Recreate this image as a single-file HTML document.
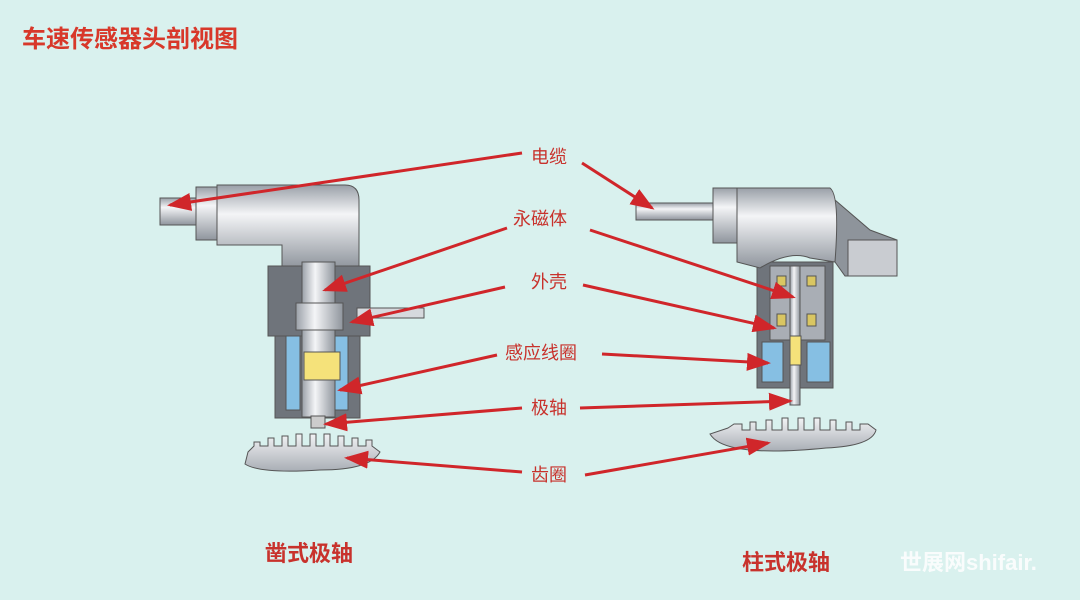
<!DOCTYPE html>
<html><head><meta charset="utf-8"><style>
html,body{margin:0;padding:0;background:#d9f1ee;}
svg{display:block}
text{font-family:"Liberation Sans","Noto Sans CJK SC",sans-serif;}
</style></head><body>
<svg width="1080" height="600" viewBox="0 0 1080 600" xmlns="http://www.w3.org/2000/svg">
<defs>
<linearGradient id="hg" x1="0" y1="0" x2="0" y2="1">
<stop offset="0" stop-color="#9aa0a8"/><stop offset="0.35" stop-color="#f4f5f7"/><stop offset="1" stop-color="#8f959d"/></linearGradient>
<linearGradient id="vg" x1="0" y1="0" x2="1" y2="0">
<stop offset="0" stop-color="#9aa0a8"/><stop offset="0.4" stop-color="#f4f5f7"/><stop offset="1" stop-color="#8f959d"/></linearGradient>
<linearGradient id="gg" x1="0" y1="0" x2="0" y2="1">
<stop offset="0" stop-color="#f2f3f5"/><stop offset="1" stop-color="#a9aeb5"/></linearGradient>
<marker id="ah" markerWidth="8" markerHeight="6" refX="7" refY="3" orient="auto" markerUnits="strokeWidth">
<path d="M0,0 L8,3 L0,6 z" fill="#d0262a"/></marker>
</defs>
<rect width="1080" height="600" fill="#d9f1ee"/>
<text x="22" y="47" font-size="24" font-weight="bold" fill="#d8382a">车速传感器头剖视图</text>

<!-- LEFT SENSOR -->
<g stroke="#555" stroke-width="1">
<rect x="160" y="198" width="40" height="27" fill="url(#hg)"/>
<rect x="196" y="187" width="22" height="53" fill="url(#hg)"/>
<path d="M217,185 H345 Q359,185 359,200 V268 H282 V245 H217 Z" fill="url(#hg)"/>
<rect x="268" y="266" width="102" height="70" fill="#6f747b"/>
<rect x="357" y="308" width="67" height="10" fill="#d6d9dd"/>
<rect x="275" y="336" width="85" height="82" fill="#6f747b"/>
<rect x="286" y="336" width="14" height="74" fill="#86bfe3"/>
<rect x="335" y="336" width="13" height="74" fill="#86bfe3"/>
<rect x="302" y="262" width="33" height="155" fill="url(#vg)"/>
<rect x="296" y="303" width="47" height="27" fill="url(#vg)"/>
<rect x="304" y="352" width="36" height="28" fill="#f5e27a"/>
<rect x="311" y="416" width="14" height="12" fill="#ccc"/>
<path d="M248,452 l6,-6 v-4 h6 v4 h8 v-8 h6 v8 h8 v-10 h6 v10 h8 v-12 h6 v12 h8 v-12 h6 v12 h8 v-12 h6 v12 h8 v-10 h6 v10 h8 v-8 h6 v8 h8 v-6 h6 v6 l8,6 q-10,18 -60,18 q-60,4 -75,-6 z" fill="url(#gg)"/>
</g>

<!-- RIGHT SENSOR -->
<g stroke="#555" stroke-width="1">
<rect x="636" y="203" width="80" height="17" fill="url(#hg)"/>
<rect x="713" y="188" width="24" height="55" fill="url(#hg)"/>
<path d="M835,200 L870,230 L897,240 V276 H845 L835,262 Z" fill="#8e949b"/>
<rect x="848" y="240" width="49" height="36" fill="#c9ccd1"/>
<rect x="757" y="262" width="76" height="126" fill="#6f747b"/>
<rect x="770" y="266" width="55" height="74" fill="#a9aeb5"/>
<rect x="762" y="342" width="21" height="40" fill="#86bfe3"/>
<rect x="807" y="342" width="23" height="40" fill="#86bfe3"/>
<rect x="777" y="276" width="9" height="10" fill="#d9c662"/>
<rect x="807" y="276" width="9" height="10" fill="#d9c662"/>
<rect x="777" y="314" width="9" height="12" fill="#d9c662"/>
<rect x="807" y="314" width="9" height="12" fill="#d9c662"/>
<path d="M737,188 H830 Q840,195 835,262 L810,258 Q790,250 760,268 L737,262 Z" fill="url(#hg)"/>
<rect x="790" y="266" width="10" height="139" fill="url(#vg)"/>
<rect x="790" y="336" width="11" height="29" fill="#f5e27a"/>
<g transform="translate(18,0)">
<path d="M710,428 l6,-4 h8 v6 h8 v-8 h6 v8 h10 v-10 h6 v10 h10 v-12 h6 v12 h10 v-12 h6 v12 h10 v-12 h6 v12 h10 v-10 h6 v10 h10 v-8 h6 v8 h8 v-6 h8 l8,6 q-4,16 -50,18 q-60,6 -90,0 q-20,-4 -26,-14 z" fill="url(#gg)"/>
</g>
</g>

<!-- labels -->
<g font-size="18" fill="#c8322c">
<text x="531" y="163">电缆</text>
<text x="513" y="225">永磁体</text>
<text x="531" y="288">外壳</text>
<text x="505" y="359">感应线圈</text>
<text x="531" y="414">极轴</text>
<text x="531" y="481">齿圈</text>
</g>
<g stroke="#d0262a" stroke-width="3" fill="none" marker-end="url(#ah)">
<line x1="522" y1="153" x2="170" y2="205"/>
<line x1="582" y1="163" x2="652" y2="208"/>
<line x1="507" y1="228" x2="325" y2="290"/>
<line x1="590" y1="230" x2="793" y2="297"/>
<line x1="505" y1="287" x2="352" y2="322"/>
<line x1="583" y1="285" x2="774" y2="328"/>
<line x1="497" y1="355" x2="340" y2="390"/>
<line x1="602" y1="354" x2="768" y2="363"/>
<line x1="522" y1="408" x2="326" y2="424"/>
<line x1="580" y1="408" x2="790" y2="401"/>
<line x1="522" y1="472" x2="347" y2="458"/>
<line x1="585" y1="475" x2="768" y2="443"/>
</g>
<text x="265" y="561" font-size="22" font-weight="bold" fill="#c8322c">凿式极轴</text>
<text x="742" y="570" font-size="22" font-weight="bold" fill="#c8322c">柱式极轴</text>
<text x="900" y="570" font-size="22" font-weight="bold" fill="#ffffff" opacity="0.85">世展网shifair.</text>
</svg>
</body></html>
